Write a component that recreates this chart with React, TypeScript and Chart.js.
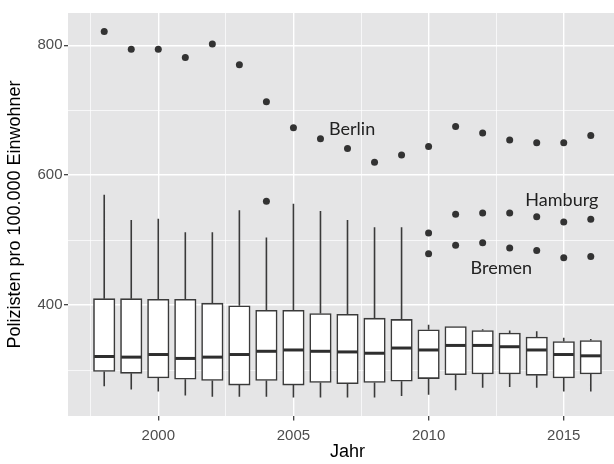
import React, { useEffect, useRef } from "react";
import { Chart, registerables } from "chart.js";

Chart.register(...registerables);

// ---- data ----
const years = [1998, 1999, 2000, 2001, 2002, 2003, 2004, 2005, 2006, 2007, 2008, 2009, 2010, 2011, 2012, 2013, 2014, 2015, 2016];
const whiskerHigh = [570, 531, 533, 512, 512, 546, 504, 556, 545, 531, 520, 520, 370, 367, 363, 361, 360, 350, 348];
const q3 = [410, 410, 409, 409, 403, 399, 392, 392, 387, 386, 380, 378, 362, 367, 361, 357, 351, 344, 345.5];
const median = [321, 320, 324, 318, 320, 324, 329, 331, 329, 328, 326, 334, 331, 338, 338, 336, 331, 324, 322];
const q1 = [298, 295, 288, 286, 284, 277, 284, 277, 281, 279, 281, 283, 287, 293, 294, 294, 292, 288, 294];
const whiskerLow = [275, 270, 267, 261, 259, 259, 259, 258, 258, 258, 258, 260, 262, 269, 273, 274, 273, 267, 267];

const berlin = [821, 794, 794, 781, 802, 770, 713, 673, 656, 641, 620, 631, 644, 675, 665, 654, 650, 650, 661];
const otherYears = [2004, 2010, 2011, 2012, 2013, 2014, 2015, 2016];
const hamburg = [560, 511, 540, 542, 542, 536, 528, 532];
const bremenYears = [2010, 2011, 2012, 2013, 2014, 2015, 2016];
const bremen = [479, 492, 496, 488, 484, 473, 475];

const xTickValues = [1997.5, 2000, 2002.5, 2005, 2007.5, 2010, 2012.5, 2015];
const xMajorTicks = [2000, 2005, 2010, 2015];
const yTickValues = [300, 400, 500, 600, 700, 800];
const yMajorTicks = [400, 600, 800];

const labelTexts = ["Berlin", "Hamburg", "Bremen"];
const labelX = [2007.17, 2014.93, 2012.69];
const labelY = [661.5, 552.2, 448.4];

const xTitle = "Jahr";
const yTitle = "Polizisten pro 100.000 Einwohner";

const LINE = "#3a3a3a";
const TICK_FONT = { family: "'Liberation Sans', Arial, sans-serif", size: 15 };
const TITLE_FONT = { family: "'Liberation Sans', Arial, sans-serif", size: 18 };

const panelBg = {
  id: "panelBg",
  beforeDraw(chart: any) {
    const { ctx, chartArea } = chart;
    ctx.save();
    ctx.fillStyle = "#E5E5E6";
    ctx.fillRect(chartArea.left, chartArea.top, chartArea.right - chartArea.left, chartArea.bottom - chartArea.top);
    ctx.restore();
  },
};

const textLabels = {
  id: "textLabels",
  afterDatasetsDraw(chart: any) {
    const { ctx, scales } = chart;
    ctx.save();
    ctx.font = "18px Lato, 'Open Sans', sans-serif";
    ctx.fillStyle = "#222222";
    ctx.textAlign = "center";
    ctx.textBaseline = "alphabetic";
    labelTexts.forEach((t, i) => {
      ctx.fillText(t, scales.x.getPixelForValue(labelX[i]), scales.y.getPixelForValue(labelY[i]));
    });
    ctx.restore();
  },
};

export default function App() {
  const ref = useRef<HTMLCanvasElement>(null);

  useEffect(() => {
    document.body.style.margin = "0";
    if (!ref.current) return;

    const boxes = years.map((yr, i) => ({ x: yr, y: [q1[i], q3[i]] }));
    const whiskers: any[] = [];
    years.forEach((yr, i) => {
      whiskers.push({ x: yr, y: q3[i] }, { x: yr, y: whiskerHigh[i] }, { x: yr, y: null });
      whiskers.push({ x: yr, y: whiskerLow[i] }, { x: yr, y: q1[i] }, { x: yr, y: null });
    });
    const medians = years.map((yr, i) => ({ x: yr, y: median[i] }));
    const outliers = [
      ...years.map((yr, i) => ({ x: yr, y: berlin[i] })),
      ...otherYears.map((yr, i) => ({ x: yr, y: hamburg[i] })),
      ...bremenYears.map((yr, i) => ({ x: yr, y: bremen[i] })),
    ];

    const chart = new Chart(ref.current, {
      type: "bar",
      data: {
        datasets: [
          {
            type: "line",
            data: whiskers,
            borderColor: LINE,
            borderWidth: 1.6,
            pointRadius: 0,
            spanGaps: false,
            tension: 0,
            order: 3,
          } as any,
          {
            type: "bar",
            data: boxes,
            backgroundColor: "#FFFFFF",
            borderColor: LINE,
            borderWidth: 1.6,
            borderSkipped: false,
            barThickness: 21.5,
            order: 2,
          } as any,
          {
            type: "scatter",
            data: medians,
            pointStyle: "line",
            pointRadius: 10,
            pointBorderWidth: 3,
            pointBorderColor: "#2e2e2e",
            order: 1,
          } as any,
          {
            type: "scatter",
            data: outliers,
            pointRadius: 3.5,
            pointBackgroundColor: "#333333",
            pointBorderWidth: 0,
            order: 0,
          } as any,
        ],
      },
      options: {
        animation: false,
        responsive: false,
        events: [],
        layout: { padding: { top: 9, right: 8, left: 0, bottom: 0 } },
        plugins: { legend: { display: false }, tooltip: { enabled: false } },
        scales: {
          x: {
            type: "linear",
            min: 1996.66,
            max: 2017.34,
            offset: false,
            afterBuildTicks: (axis: any) => {
              axis.ticks = xTickValues.map((v) => ({ value: v }));
            },
            afterFit: (axis: any) => {
              axis.height = 48;
            },
            grid: {
              offset: false,
              color: "#FFFFFF",
              lineWidth: (c: any) => (xMajorTicks.includes(c.tick?.value) ? 1.4 : 0.7),
              tickColor: (c: any) => (xMajorTicks.includes(c.tick?.value) ? "#333333" : "rgba(0,0,0,0)"),
              tickLength: 4.5,
              tickWidth: 1.2,
            },
            border: { display: false },
            ticks: {
              autoSkip: false,
              maxRotation: 0,
              padding: 6,
              color: "#4D4D4D",
              font: TICK_FONT,
              callback: (v: any) => (xMajorTicks.includes(v) ? String(v) : ""),
            },
            title: {
              display: true,
              text: xTitle,
              color: "#000000",
              font: TITLE_FONT,
              padding: { top: 0, bottom: 1 },
            },
          } as any,
          y: {
            type: "linear",
            min: 229.4,
            max: 849.6,
            beginAtZero: false,
            afterBuildTicks: (axis: any) => {
              axis.ticks = yTickValues.map((v) => ({ value: v }));
            },
            afterFit: (axis: any) => {
              axis.width = 68;
            },
            grid: {
              color: "#FFFFFF",
              lineWidth: (c: any) => (yMajorTicks.includes(c.tick?.value) ? 1.4 : 0.7),
              tickColor: (c: any) => (yMajorTicks.includes(c.tick?.value) ? "#333333" : "rgba(0,0,0,0)"),
              tickLength: 4,
              tickWidth: 1.2,
            },
            border: { display: false },
            ticks: {
              autoSkip: false,
              padding: 1.5,
              color: "#4D4D4D",
              font: TICK_FONT,
              callback: (v: any) => (yMajorTicks.includes(v) ? String(v) : ""),
            },
            title: {
              display: true,
              text: yTitle,
              color: "#000000",
              font: TITLE_FONT,
              padding: { top: 4, bottom: 0 },
            },
          } as any,
        },
      },
      plugins: [panelBg, textLabels],
    });

    return () => chart.destroy();
  }, []);

  return (
    <div style={{ width: 614, height: 464, overflow: "hidden", background: "#FFFFFF" }}>
      <canvas ref={ref} width={640} height={464} style={{ display: "block", width: 640, height: 464 }} />
    </div>
  );
}
